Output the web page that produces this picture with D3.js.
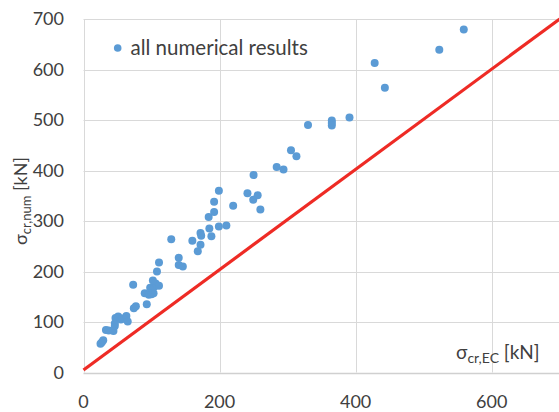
<!DOCTYPE html>
<html>
<head>
<meta charset="utf-8">
<script src="https://cdn.jsdelivr.net/npm/d3@7"></script>
<style>
  body { margin: 0; background: #fff; }
  svg { display: block; font-family: Lato, "Open Sans", sans-serif; }
</style>
</head>
<body>
<svg id="chart" width="559" height="412"></svg>
<script>
// sigma_cr,EC (x) vs sigma_cr,num (y), kN
const ecVals = [25, 27, 29, 33, 37, 44, 46, 46, 47, 51, 55, 57, 63, 65, 74, 77, 73,
  90, 93, 96, 100, 103, 100, 98, 104, 106, 102, 111, 108, 111,
  129, 140, 140, 146, 160, 168, 172, 172, 173, 184, 185, 188, 192, 192, 199, 199, 210, 220,
  241, 250, 249.5, 256, 260, 284, 294, 305, 313, 330, 365, 365, 365, 391, 428, 443, 523, 559];
const numVals = [57, 60, 64, 84, 83, 82, 92, 97, 108, 111, 105, 107, 112, 101, 127, 131, 174,
  157, 135, 154, 155, 157, 164, 168, 170, 176, 182, 172, 200, 218,
  264, 227, 213, 210, 261, 240, 253, 276, 271, 308, 285, 270, 318, 338, 360, 289, 291, 330,
  355, 391, 342, 351, 323, 407, 402, 440, 428, 490, 499, 494, 489, 505, 613, 564, 639, 679];
const refLineX = [0, 700];
const refLineY = [5, 700];
const xTicks = [0, 200, 400, 600];
const yTicks = [0, 100, 200, 300, 400, 500, 600, 700];
const legendLabel = 'all numerical results';

const svg = d3.select('#chart');
const x = d3.scaleLinear().domain([0, 700]).range([83.5, 559.7]);
const y = d3.scaleLinear().domain([0, 700]).range([372.5, 19]);

// gridlines
svg.append('g').selectAll('line.h').data(yTicks.filter(d => d > 0)).join('line')
  .attr('x1', x(0)).attr('x2', x(700))
  .attr('y1', d => Math.round(y(d)) + 0.5).attr('y2', d => Math.round(y(d)) + 0.5)
  .attr('stroke', '#d9d9d9').attr('stroke-width', 1);
svg.append('g').selectAll('line.v').data(xTicks).join('line')
  .attr('y1', y(0)).attr('y2', y(700))
  .attr('x1', d => Math.round(x(d)) + 0.5).attr('x2', d => Math.round(x(d)) + 0.5)
  .attr('stroke', '#d9d9d9').attr('stroke-width', 1);

// bottom axis line
svg.append('line')
  .attr('x1', x(0)).attr('x2', x(700))
  .attr('y1', Math.round(y(0)) + 0.5).attr('y2', Math.round(y(0)) + 0.5)
  .attr('stroke', '#d0d0d0').attr('stroke-width', 1.5);

// tick labels
svg.append('g').selectAll('text').data(yTicks).join('text')
  .attr('x', 64).attr('y', d => y(d)).attr('dy', '0.35em')
  .attr('text-anchor', 'end')
  .style('font-size', '18px').style('fill', '#404040')
  .text(d => d);
svg.append('g').selectAll('text').data(xTicks).join('text')
  .attr('x', d => x(d)).attr('y', 402).attr('dy', '0.35em')
  .attr('text-anchor', 'middle')
  .style('font-size', '18px').style('fill', '#404040')
  .text(d => d);

// points
svg.append('g').selectAll('circle').data(ecVals.map((v, i) => [v, numVals[i]])).join('circle')
  .attr('cx', d => x(d[0])).attr('cy', d => y(d[1])).attr('r', 4)
  .attr('fill', '#5b9bd5');

// reference line y = x
svg.append('path')
  .datum(refLineX.map((v, i) => [v, refLineY[i]]))
  .attr('d', d3.line().x(d => x(d[0])).y(d => y(d[1])))
  .attr('fill', 'none').attr('stroke', '#ee2b25').attr('stroke-width', 3.2);

// legend
svg.append('circle').attr('cx', 117.7).attr('cy', 48).attr('r', 3.8).attr('fill', '#5b9bd5');
svg.append('text').attr('x', 130.5).attr('y', 48).attr('dy', '0.35em')
  .style('font-size', '20.5px').style('fill', '#404040')
  .text(legendLabel);

// axis titles
const xt = svg.append('text').attr('x', 456).attr('y', 359)
  .style('font-size', '19px').style('fill', '#404040');
xt.append('tspan').text('σ');
xt.append('tspan').attr('dy', 4).style('font-size', '14px').text('cr,EC');
xt.append('tspan').attr('dy', -4).text(' [kN]');

const yt = svg.append('text')
  .attr('transform', 'translate(27,201) rotate(-90)')
  .attr('text-anchor', 'middle')
  .style('font-size', '18px').style('fill', '#404040');
yt.append('tspan').text('σ');
yt.append('tspan').attr('dy', 4).style('font-size', '13px').text('cr,num');
yt.append('tspan').attr('dy', -4).text(' [kN]');
</script>
</body>
</html>
